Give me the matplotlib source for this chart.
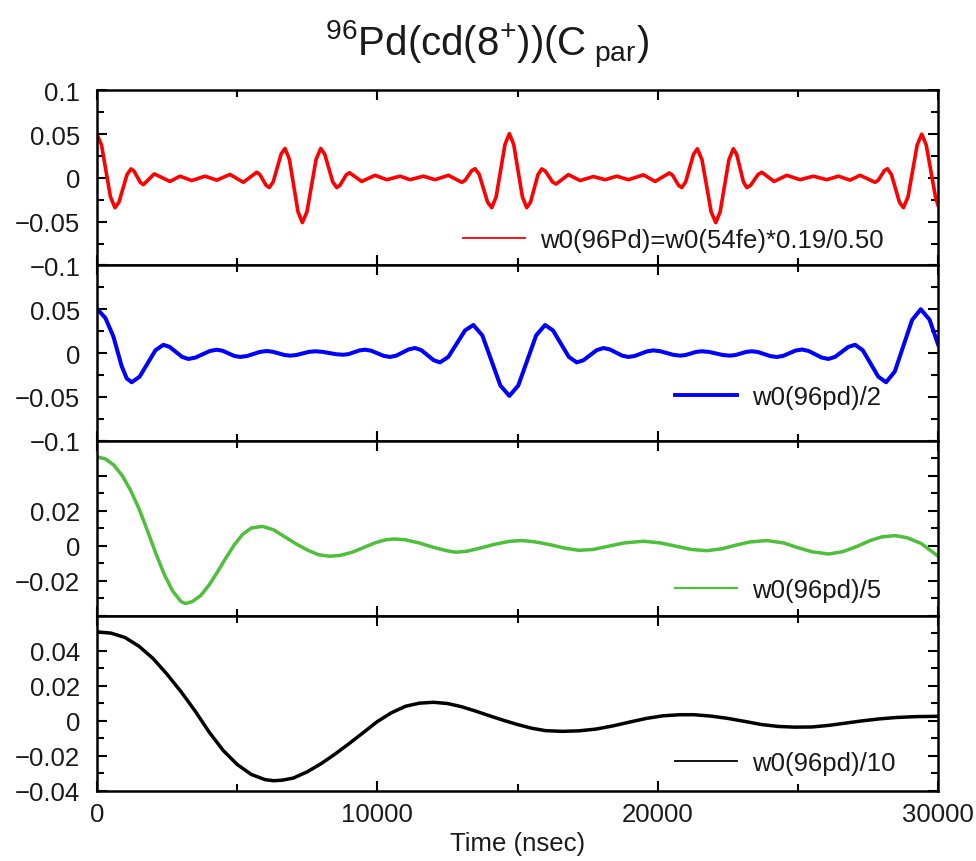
import matplotlib
matplotlib.use('Agg')
import matplotlib.pyplot as plt
from matplotlib.ticker import MultipleLocator

plt.rcParams['font.family'] = ['Liberation Sans', 'DejaVu Sans']
plt.rcParams['mathtext.fontset'] = 'custom'
plt.rcParams['mathtext.rm'] = 'Liberation Sans'
plt.rcParams['mathtext.it'] = 'Liberation Sans'

# valeurs (temps en nsec)
red_t = [0, 160, 321, 481, 642, 785, 927, 1070, 1213, 1323, 1432, 1542, 1652, 2044, 2604, 2961,
         3378, 3853, 4270, 4745, 5220, 5697, 5809, 5921, 6034, 6146, 6286, 6426, 6567, 6707,
         6862, 7016, 7171, 7325, 7489, 7652, 7816, 7980, 8123, 8266, 8408, 8551, 8664, 8777,
         8890, 9003, 9443, 9918, 10335, 10810, 11167, 11642, 12058, 12533, 13011, 13130, 13248,
         13367, 13485, 13634, 13783, 13932, 14081, 14238, 14396, 14553, 14710, 14865, 15020,
         15175, 15330, 15464, 15598, 15731, 15865, 15993, 16120, 16248, 16375, 16815, 17232,
         17706, 18124, 18540, 18956, 19490, 19908, 20418, 20529, 20639, 20750, 20860, 20999,
         21138, 21277, 21416, 21580, 21744, 21908, 22072, 22229, 22386, 22543, 22700, 22820,
         22940, 23059, 23179, 23313, 23447, 23580, 23714, 24153, 24605, 25080, 25555, 26030,
         26450, 26864, 27220, 27756, 27866, 27976, 28085, 28195, 28338, 28481, 28623, 28766,
         28930, 29093, 29257, 29420, 29580, 29747, 29910, 30000]
red_v = [0.050, 0.0377, 0.008, -0.0217, -0.034, -0.0276, -0.0119, 0.0038, 0.0103, 0.0077, 0.0013,
         -0.005, -0.0077, 0.0046, -0.004, 0.002, -0.003, 0.002, -0.0025, 0.004, -0.005, 0.0065,
         0.0039, -0.0023, -0.0085, -0.011, -0.0044, 0.0114, 0.0272, 0.0337, 0.0213, -0.0087,
         -0.0387, -0.051, -0.0387, -0.0087, 0.0213, 0.0337, 0.0272, 0.0114, -0.0044, -0.011,
         -0.0085, -0.0025, 0.0035, 0.006, -0.004, 0.003, -0.002, 0.002, -0.002, 0.002, -0.002,
         0.003, -0.005, -0.0027, 0.0028, 0.0083, 0.0105, 0.0040, -0.0118, -0.0276, -0.034,
         -0.0216, 0.0083, 0.0382, 0.0506, 0.0382, 0.0083, -0.0216, -0.034, -0.0276, -0.0119,
         0.0038, 0.0103, 0.0078, 0.0017, -0.0045, -0.007, 0.0038, -0.003, 0.0016, -0.002, 0.002,
         -0.002, 0.0035, -0.004, 0.0057, 0.0032, -0.0027, -0.0086, -0.011, -0.0045, 0.0112,
         0.0269, 0.0333, 0.0209, -0.0089, -0.0387, -0.051, -0.0387, -0.0089, 0.0209, 0.0333,
         0.0269, 0.0112, -0.0045, -0.011, -0.0085, -0.0023, 0.0039, 0.0065, -0.004, 0.003,
         -0.002, 0.002, -0.002, 0.002, -0.0025, 0.003, -0.005, -0.0027, 0.0028, 0.0083, 0.0105,
         0.0040, -0.0118, -0.0276, -0.034, -0.0217, 0.008, 0.0377, 0.050, 0.0377, 0.008,
         -0.0217, -0.031]

blue_t = [0, 300, 583, 880, 1060, 1237, 1519, 1802, 2084, 2366, 2589, 2812, 3035, 3258, 3511,
          3764, 4017, 4270, 4478, 4894, 5102, 5340, 5817, 6055, 6262, 6678, 6885, 7108, 7555,
          7778, 8030, 8535, 8787, 8980, 9367, 9561, 9784, 10230, 10453, 10676, 11122, 11345,
          11568, 11791, 12014, 12237, 12534, 12831, 13128, 13425, 13746, 14068, 14389, 14710,
          15028, 15347, 15665, 15983, 16266, 16548, 16831, 17113, 17350, 17588, 17826, 18063,
          18286, 18732, 18955, 19178, 19624, 19847, 20085, 20562, 20800, 20993, 21380, 21573,
          21825, 22330, 22583, 22777, 23163, 23357, 23580, 24027, 24250, 24473, 24919, 25142,
          25379, 25853, 26090, 26328, 26566, 26804, 27042, 27319, 27595, 27872, 28148, 28458,
          28767, 29077, 29386, 29700, 30000]
blue_v = [0.0505, 0.040, 0.019, -0.015, -0.029, -0.0334, -0.0271, -0.012, 0.0031, 0.0094,
          0.0070, 0.0013, -0.0044, -0.0068, -0.0052, -0.0015, 0.0022, 0.0038, 0.0026, -0.0033,
          -0.0045, -0.0035, 0.0013, 0.0023, 0.0015, -0.0022, -0.003, -0.0023, 0.0013, 0.002,
          0.0014, -0.0014, -0.002, -0.0012, 0.0030, 0.0038, 0.0026, -0.0033, -0.0045, -0.0030,
          0.0042, 0.0057, 0.0033, -0.0025, -0.0083, -0.0107, -0.0044, 0.0107, 0.0258, 0.032,
          0.0201, -0.0085, -0.0371, -0.049, -0.0371, -0.0085, 0.0201, 0.032, 0.0258, 0.0107,
          -0.0044, -0.0107, -0.0083, -0.0025, 0.0033, 0.0057, 0.0042, -0.0030, -0.0045, -0.0034,
          0.0019, 0.003, 0.0021, -0.0021, -0.003, -0.0023, 0.0013, 0.002, 0.0013, -0.0023,
          -0.003, -0.0023, 0.0013, 0.002, 0.0011, -0.0036, -0.0045, -0.0033, 0.0028, 0.004,
          0.0024, -0.0052, -0.0068, -0.0044, 0.0013, 0.0070, 0.0094, 0.0031, -0.012, -0.0271,
          -0.0334, -0.0212, 0.0083, 0.0378, 0.050, 0.038, 0.010]

green_t = [0, 300, 600, 900, 1200, 1500, 1800, 2100, 2400, 2700, 3000, 3150, 3400, 3700, 4000,
           4300, 4600, 4900, 5200, 5500, 5900, 6300, 6700, 7100, 7500, 7900, 8300, 8700, 9100,
           9500, 9900, 10300, 10600, 11000, 11500, 12000, 12500, 12800, 13200, 13700, 14200,
           14700, 15150, 15600, 16200, 16700, 17200, 17700, 18200, 18800, 19500, 20100, 20700,
           21200, 21750, 22300, 22800, 23300, 23900, 24500, 25000, 25500, 26100, 26600, 27100,
           27600, 28000, 28470, 28900, 29400, 30000]
green_v = [0.0507, 0.0495, 0.0460, 0.0400, 0.0315, 0.0210, 0.0085, -0.0045, -0.0165, -0.0260,
           -0.0320, -0.0331, -0.0320, -0.0285, -0.0225, -0.0150, -0.0070, 0.0005, 0.0065,
           0.0100, 0.0110, 0.0090, 0.0050, 0.0010, -0.0025, -0.0052, -0.0061, -0.0055, -0.0038,
           -0.0012, 0.0015, 0.0033, 0.0038, 0.0033, 0.0015, -0.0010, -0.0030, -0.0038, -0.0032,
           -0.0013, 0.0008, 0.0024, 0.0029, 0.0022, 0.0004, -0.0015, -0.0027, -0.0022, -0.0005,
           0.0015, 0.0025, 0.0015, -0.0005, -0.0022, -0.0029, -0.0018, 0.0003, 0.0021, 0.0029,
           0.0015, -0.0012, -0.0035, -0.0048, -0.0035, -0.0005, 0.0030, 0.0050, 0.0057, 0.0045,
           0.0012, -0.0060]

black_t = [0, 500, 1000, 1500, 2000, 2500, 3000, 3500, 4000, 4500, 5000, 5500, 6000, 6300, 6600,
           7000, 7500, 8000, 8500, 9000, 9500, 10000, 10500, 11000, 11500, 12000, 12500, 13000,
           13500, 14000, 14500, 15000, 15500, 16000, 16600, 17200, 17800, 18400, 19000, 19600,
           20200, 20800, 21300, 21900, 22500, 23100, 23700, 24300, 24900, 25500, 26100, 26700,
           27300, 27900, 28500, 29200, 30000]
black_v = [0.0507, 0.0500, 0.0475, 0.0425, 0.0355, 0.0265, 0.0165, 0.0055, -0.0065, -0.0170,
           -0.0250, -0.0307, -0.0337, -0.0343, -0.0340, -0.0328, -0.0292, -0.0245, -0.0190,
           -0.0130, -0.0068, -0.0005, 0.0045, 0.0082, 0.0100, 0.0105, 0.0098, 0.0080, 0.0055,
           0.0028, 0.0002, -0.0022, -0.0043, -0.0057, -0.0061, -0.0058, -0.0048, -0.0030,
           -0.0008, 0.0013, 0.0028, 0.0034, 0.0034, 0.0026, 0.0013, -0.0004, -0.0022, -0.0033,
           -0.0037, -0.0036, -0.0027, -0.0014, -0.0001, 0.0010, 0.0018, 0.0023, 0.0025]

labels = ['w0(96Pd)=w0(54fe)*0.19/0.50', 'w0(96pd)/2', 'w0(96pd)/5', 'w0(96pd)/10']
colors = ['#ff0000', '#0000ff', '#4dbf3a', '#000000']

fig = plt.figure(figsize=(9.76, 8.62), dpi=100)
left, width = 97 / 976, 841 / 976
h = 0.8124 / 4
bottom0 = 1 - 791.7 / 862

series = [(red_t, red_v), (blue_t, blue_v), (green_t, green_v), (black_t, black_v)]
ylims = [(-0.1, 0.1), (-0.1, 0.1), (-0.04, 0.06), (-0.04, 0.06)]
yticks = [[-0.1, -0.05, 0, 0.05, 0.1], [-0.1, -0.05, 0, 0.05, 0.1],
          [-0.04, -0.02, 0, 0.02, 0.04, 0.06], [-0.04, -0.02, 0, 0.02, 0.04, 0.06]]
yticklabels = [['\u22120.1', '\u22120.05', '0', '0.05', '0.1'],
               ['\u22120.1', '\u22120.05', '0', '0.05', ''],
               ['', '\u22120.02', '0', '0.02', '', ''],
               ['\u22120.04', '\u22120.02', '0', '0.02', '0.04', '']]
yminor = [0.025, 0.025, 0.01, 0.01]
leg_x = [(463 - 97) / 841, (675 - 97) / 841, (675 - 97) / 841, (675 - 97) / 841]
leg_y = [0.147, 0.25, 0.148, 0.156]
line_w = [2.6, 2.9, 2.5, 2.5]
leg_w = [1.3, 2.8, 1.6, 1.3]

axes = []
for i in range(4):
    ax = fig.add_axes([left, bottom0 + (3 - i) * h, width, h])
    t, v = series[i]
    ax.plot(t, v, color=colors[i], lw=line_w[i], label=labels[i], solid_joinstyle='round')
    ax.set_xlim(0, 30000)
    ax.set_ylim(*ylims[i])
    ax.set_yticks(yticks[i])
    ax.set_yticklabels(yticklabels[i])
    ax.yaxis.set_minor_locator(MultipleLocator(yminor[i]))
    ax.set_xticks([0, 10000, 20000, 30000])
    ax.xaxis.set_minor_locator(MultipleLocator(5000))
    ax.tick_params(which='both', direction='in', top=True, right=True, width=1.5,
                   labelsize=18.5, labelcolor='#1a1a1a')
    ax.tick_params(which='major', length=7)
    ax.tick_params(which='minor', length=5)
    ax.tick_params(axis='y', pad=12)
    ax.tick_params(axis='x', pad=8)
    for s in ax.spines.values():
        s.set_linewidth(1.8)
    if i < 3:
        ax.tick_params(axis='x', labelbottom=False)
    leg = ax.legend(loc='center left', bbox_to_anchor=(leg_x[i], leg_y[i]), frameon=False,
                    fontsize=18.5, handlelength=2.4, handletextpad=0.6, borderpad=0,
                    borderaxespad=0)
    for txt in leg.get_texts():
        txt.set_color('#1a1a1a')
    leg.get_lines()[0].set_linewidth(leg_w[i])
    axes.append(ax)

axes[3].set_xlabel('Time (nsec)', fontsize=18.5, color='#1a1a1a', labelpad=4)

fig.text(0.499, 1 - 56 / 862, r'$^{96}$Pd(cd(8$^{+}$))(C$_{\ \rm par}$)', fontsize=29,
         ha='center', va='baseline', color='#1a1a1a')

fig.savefig('out.png', dpi=100)
